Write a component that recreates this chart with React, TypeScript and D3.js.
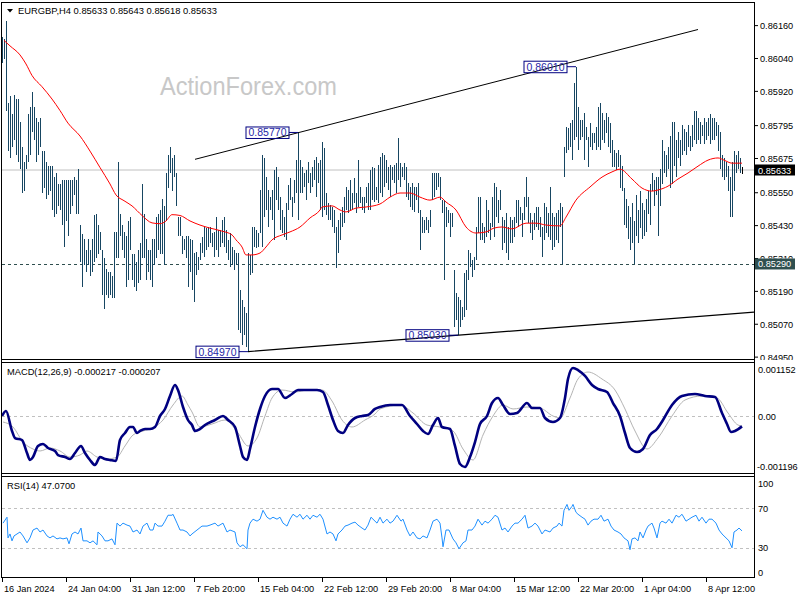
import React from "react";
import * as d3 from "d3";

// Prices are stored as points (1e-5) above 0.85000
const BASE = 0.85;
const highPts = [
1119,1112,1177,877,904,837,907,893,891,810,
716,662,689,837,864,918,864,823,810,823,
702,702,662,649,649,649,608,622,582,582,
595,595,595,595,595,595,608,595,635,434,
400,380,340,380,340,380,467,474,434,407,
340,313,272,259,259,245,407,407,662,474,
434,407,393,447,461,326,326,299,340,366,
582,474,380,340,340,380,380,461,474,488,
528,501,622,689,716,675,689,622,461,461,
393,380,393,393,
380,
378,329,335,317,365,390,426,420,426,426,
402,408,463,414,414,450,463,414,378,402,
353,341,329,329,195,158,134,110,329,323,
426,426,414,402,560,688,676,609,560,536,
560,633,645,609,536,487,463,511,578,603,
536,597,670,770,670,645,621,633,663,621,
645,670,682,657,670,736,712,548,511,505,
499,487,426,450,475,499,536,572,560,597,
548,603,548,670,572,536,536,572,584,633,
645,639,572,651,
682,694,688,670,645,651,645,651,657,748,
657,645,657,645,584,572,584,572,572,584,
487,463,450,463,450,487,621,621,621,621,
609,523,523,499,487,475,475,268,183,171,
158,134,256,268,341,329,304,317,426,536,
536,438,426,523,487,438,536,584,572,523,
560,463,450,475,426,463,450,463,523,523,
499,475,536,609,536,475,450,475,499,499,
463,426,511,499,475,572,475,463,475,487,
511,499,718,791,785,803,815,949,1010,864,
815,815,840,791,755,803,767,767,791,864,
876,840,815,840,828,803,743,706,694,706,
689,649,568,528,501,461,514,447,541,487,
555,514,487,528,555,582,622,595,608,608,
635,743,702,689,716,756,810,810,743,770,
743,797,783,770,797,756,797,850,850,823,
810,797,823,810,823,837,823,823,810,797,
770,689,675,662,649,608,662,702,689,702,
675,643
];
const lowPts = [
1025,1038,850,702,676,716,743,689,662,635,
548,555,635,662,689,770,743,662,689,716,
548,568,528,541,555,487,460,474,501,487,
434,353,447,393,474,501,541,474,474,299,
205,286,259,286,245,259,299,313,326,340,
178,124,178,165,178,165,165,313,313,393,
340,313,205,232,340,232,205,192,219,232,
313,313,232,259,232,205,286,313,340,326,
326,286,447,568,622,555,608,501,393,393,
326,340,313,205,
259,
195,152,250,268,304,329,317,341,353,365,
353,317,341,317,353,365,353,329,304,280,
286,268,286,49,37,-6,31,-12,-30,250,
256,353,347,353,402,353,463,487,426,487,
450,378,523,487,414,402,390,378,487,523,
463,511,548,450,548,548,572,523,584,548,
572,597,536,584,487,463,487,469,450,450,
426,402,274,329,378,426,438,487,475,487,
487,511,475,499,511,487,475,511,487,487,
523,517,523,511,
548,536,572,584,560,536,597,584,548,597,
572,609,597,536,523,499,487,481,523,475,
341,402,402,414,402,426,523,536,560,572,
523,475,232,426,438,390,426,61,85,30,
61,85,98,122,232,280,244,268,304,402,
378,378,365,390,402,378,426,390,463,438,
487,341,365,329,304,365,365,390,438,426,
450,390,450,499,438,402,378,414,426,414,
390,317,378,402,390,378,341,353,378,365,
426,290,609,694,706,718,670,743,755,706,
743,755,670,743,645,718,706,730,706,718,
706,743,730,767,718,694,645,645,633,645,
568,555,434,420,380,340,366,290,393,366,
420,380,393,407,474,434,555,501,541,393,
501,582,622,608,635,568,582,649,608,675,
649,689,702,689,716,702,716,743,729,743,
729,756,729,743,756,729,743,743,756,702,
635,608,595,608,555,460,460,555,622,635,
622,618
];

// Moving average (points above 0.85000) at bar indices
const maIdx = [1,4,9,12,15,20,25,29,33,39,44,49,54,57,61,65,70,75,79,82,85,89,94,99,104,110,115,117,120,122,125,129,132,135,140,144,149,154,159,160,165,169,172,177,182,189,194,199,204,209,214,219,222,227,232,237,242,246,250,255,262,267,272,279,282,287,294,300,305,309,315,320,325,328,333,338,343,348,353,358,361,365,370];
const maVal = [1106,1086,1053,1020,978,937,892,850,804,757,702,642,582,542,521,502,467,440,437,447,470,467,447,432,421,410,396,378,352,323,323,330,352,378,396,407,425,458,487,498,502,487,480,494,498,509,534,549,549,534,523,534,516,487,425,403,407,421,425,418,439,439,432,429,461,523,571,607,626,636,600,567,556,560,574,600,622,647,669,677,669,658,658];

// MACD main line (1e-6 units)
const macdIdx = [0,2,5,6.5,10,12.5,14,15.5,18,20.5,23,26.5,28,31.5,34,36.5,39.5,41.5,44,46.5,49,51.5,54,57,59,61.5,64,65.5,67.5,69,71.5,74,76.5,79,81.5,84,86.5,88,90.5,93,95,96.5,99,101.5,106.5,110.5,113,116.5,119,120.5,122.5,124,126.5,129,131.5,135,138,141.5,145,148,153,157.5,160.5,163,165.5,168,170.5,173,176.5,180,183,186.5,189,194,200,204,207.5,210.5,213,215.5,218,220,224,226.5,229,231.5,234,236.5,239,242.5,245,248,250.5,254,257.5,262.5,265,269,271.5,275.5,279,281.5,283,285.5,288,291.5,295,298,302.5,305.5,309,311.5,314,317.5,320.5,324,327.5,330.5,335,340,346.5,351.5,356.5,360,362.5,364.5,366.5,370];
const macdVal = [11,121,-318,-472,-516,-801,-954,-889,-647,-603,-691,-757,-845,-889,-932,-801,-647,-801,-954,-1064,-889,-932,-954,-976,-516,-362,-230,-230,-362,-318,-274,-274,-230,11,165,450,691,581,208,-77,-187,-318,-274,-187,-77,11,-77,-230,-647,-889,-954,-713,-230,165,450,603,603,406,494,581,581,581,538,252,-77,-318,-362,-187,-33,11,33,165,208,252,252,11,-165,-318,-384,-187,-33,-230,-274,-647,-1042,-1108,-889,-560,-165,11,296,406,252,55,77,296,187,187,-33,-121,-33,406,823,1064,1020,889,691,603,538,296,11,-362,-691,-779,-713,-406,-274,-77,252,450,494,450,428,77,-165,-340,-318,-217];
// MACD signal line (1e-6 units)
const sigIdx = [0.5,5.5,10.5,15.5,19,24,29,34,39,42.5,47.5,52.5,57.5,61.5,65.5,70.5,75.5,80.5,85.5,90,93,95,99,105,111.5,118,123,127.5,131.5,135,140,146.5,153,160,165,170,175,181.5,186.5,189,199,205.5,212.5,219,225.5,230.5,235.5,240.5,245.5,250.5,255.5,262.5,269,275.5,279,284,288,293,300,306.5,311.5,316.5,322.5,328,335,341.5,350,357.5,363,368,370];
const sigVal = [-121,-230,-560,-713,-757,-691,-757,-889,-845,-757,-889,-932,-889,-647,-406,-318,-252,-77,252,450,252,99,-230,-165,-77,-362,-647,-472,11,406,581,538,581,581,340,-77,-230,-77,55,165,252,77,-187,-230,-318,-713,-954,-406,11,252,165,208,187,11,-33,406,823,976,823,581,165,-318,-713,-472,11,362,450,406,77,-187,-207];

// RSI(14) [bar index, value]
const rsiPoints: [number, number][] = [
[0.5,55],[2.5,61],[3,40],[4,44],[5,37],[6,42],[7.5,44],[9,46],[10.5,42],[12.5,35],[14,40],[15.5,48],[17.5,50],[19,46],[20.5,48],[22.5,42],[24,40],[25.5,42],[27.5,39],[29,40],[30.5,39],[32.5,40],[33.5,34],[35,44],[36.5,46],[38,44],[39.5,50],[40.5,37],[42.5,37],[44,35],[45.5,37],[47.5,33],[48,46],[50,42],[51.5,37],[53,37],[55,39],[56.5,33],[57.5,55],[59,52],[60.5,55],[62.5,53],[64,52],[65.5,46],[67.5,48],[69,44],[70.5,52],[72.5,55],[74,48],[75.5,48],[76.5,55],[78,52],[80,52],[81.5,57],[83,63],[85,63],[85.5,64],[87.5,55],[89,48],[90.5,48],[92.5,46],[94,42],[95,44],[97.5,48],[100,52],[102.5,52],[104,53],[106.5,55],[108,52],[110.5,55],[112.5,46],[114,48],[116.5,46],[117.5,35],[119,31],[120.5,33],[122.5,29],[123,48],[124,55],[125.5,59],[127.5,57],[129,59],[130.5,68],[132.5,61],[134,59],[135.5,61],[137.5,59],[139,61],[140.5,55],[142.5,52],[144,59],[145.5,64],[147.5,61],[149,64],[150.5,59],[152.5,63],[154,59],[155.5,63],[157.5,61],[159,64],[160.5,59],[162.5,44],[164,46],[165.5,44],[167,37],[168,44],[170,48],[171.5,52],[173,53],[175,55],[176.5,56],[178,53],[180,50],[181.5,48],[183,53],[184.5,61],[185.5,59],[187.5,55],[189,61],[190.5,55],[192.5,59],[194,55],[195.5,57],[197.5,63],[199.5,57],[200.5,59],[202.5,48],[204,42],[205.5,46],[207.5,40],[209,39],[210.5,42],[212.5,40],[214,48],[215.5,57],[217.5,59],[219,55],[220,40],[220.5,31],[222,48],[223.5,48],[225.5,39],[227,35],[228.5,29],[230.5,35],[232,37],[233,48],[235,48],[236.5,52],[238,59],[240,53],[241.5,57],[243,55],[245,59],[246.5,63],[248,61],[250,48],[251.5,50],[253,46],[255,52],[256.5,55],[258,55],[260,59],[261.5,63],[263,50],[265,52],[266.5,55],[268,52],[270,44],[271.5,48],[274,46],[275.5,50],[277.5,52],[278.5,55],[280,52],[281,68],[282.5,74],[283.5,68],[285,72],[285.5,74],[287,66],[288,64],[290,61],[291.5,59],[293,53],[294.5,57],[296,59],[298,59],[299.5,63],[301,57],[303,59],[304.5,52],[306,48],[308,46],[309.5,44],[311,40],[313,37],[314,28],[315,39],[316.5,40],[318,37],[319,46],[320.5,40],[322,48],[323,52],[325,55],[326,50],[327.5,40],[329,55],[330,57],[332,55],[333.5,59],[335,55],[337,63],[338.5,61],[340,64],[342,57],[343.5,59],[345,61],[347,63],[348.5,57],[350,61],[352,55],[353.5,59],[355,59],[357,55],[358.5,48],[360,44],[362,40],[363.5,37],[365,30],[366,46],[367.5,48],[368.5,50],[370,47.07]
];

const priceTicks = [0.8616, 0.8604, 0.8592, 0.85795, 0.85675, 0.8555, 0.8543, 0.8531, 0.8519, 0.8507, 0.8495];
const timeLabels = ["16 Jan 2024", "24 Jan 04:00", "31 Jan 12:00", "7 Feb 20:00", "15 Feb 04:00", "22 Feb 12:00", "29 Feb 20:00", "8 Mar 04:00", "15 Mar 12:00", "22 Mar 20:00", "1 Apr 04:00", "8 Apr 12:00"];
const timeLabelIdx = [0, 32, 64, 96, 128, 160, 192, 224, 256, 288, 320, 352];

const annotations = [
  { idx: 148, price: 0.8577, text: "0.85770" },
  { idx: 123, price: 0.8497, text: "0.84970" },
  { idx: 228, price: 0.8503, text: "0.85030" },
  { idx: 287, price: 0.8601, text: "0.86010" },
];
const upperTrend = { i0: 96.5, p0: 0.85672, i1: 348, p1: 0.861458 };
const lowerTrend = { i0: 123, p0: 0.8497, i1: 228, p1: 0.8503 };
const lastPrice = 0.85633;
const levelPrice = 0.8529;
const headerText = "EURGBP,H4  0.85633 0.85643 0.85618 0.85633";
const macdText = "MACD(12,26,9) -0.000217 -0.000207";
const rsiText = "RSI(14) 47.0700";
const macdTicks = [
  { v: 0.001152, t: "0.001152" },
  { v: 0, t: "0.00" },
  { v: -0.001196, t: "-0.001196" },
];
const rsiTicks = [100, 70, 30, 0];

const FONT = "'Liberation Sans', Arial, sans-serif";
const BAR_COLOR = "#174662";

export default function App() {
  const AX = 754;
  const x = d3.scaleLinear().domain([0, 370]).range([2, 742]);
  const yP = d3.scaleLinear().domain([0.8494315, 0.8624985]).range([359, 1]);
  const yM = d3.scaleLinear().domain([-0.001196, 0.001152]).range([471, 364]);
  const yR = d3.scaleLinear().domain([0, 100]).range([577.3, 478.8]);
  const pp = (v: number) => BASE + v / 1e5;

  const maLine = d3.line<number>().x((_, k) => x(maIdx[k])).y((v) => yP(pp(v))).curve(d3.curveMonotoneX);
  const macdLine = d3.line<number>().x((_, k) => x(macdIdx[k])).y((v) => yM(v / 1e6)).curve(d3.curveMonotoneX);
  const sigLine = d3.line<number>().x((_, k) => x(sigIdx[k])).y((v) => yM(v / 1e6)).curve(d3.curveMonotoneX);
  const rsiLine = d3.line<[number, number]>().x((d) => x(d[0])).y((d) => yR(d[1]));

  const lowSlope = (lowerTrend.p1 - lowerTrend.p0) / (lowerTrend.i1 - lowerTrend.i0);
  const iEnd = x.invert(AX);
  const lowEndP = lowerTrend.p0 + lowSlope * (iEnd - lowerTrend.i0);
  const levelTop = yP(levelPrice) - 5.5;

  return (
    <svg width={800} height={600} style={{ position: "absolute", left: 0, top: 0, background: "#fff" }} fontFamily={FONT}>
      <defs>
        <clipPath id="mainClip"><rect x={2} y={2} width={AX - 2} height={357.5} /></clipPath>
        <clipPath id="axisClip"><rect x={AX} y={0} width={46} height={360} /></clipPath>
        <clipPath id="hiddenTickClip"><rect x={AX} y={0} width={46} height={levelTop} /></clipPath>
        <clipPath id="macdClip"><rect x={2} y={363} width={AX - 2} height={110} /></clipPath>
        <clipPath id="rsiClip"><rect x={2} y={477} width={AX - 2} height={101} /></clipPath>
      </defs>
      <rect x={0} y={0} width={800} height={600} fill="#fff" />

      {/* watermark */}
      <text x={160} y={95} fontSize={25} fill="#c8c8c8" textLength={177} lengthAdjust="spacingAndGlyphs">ActionForex.com</text>

      {/* main panel */}
      <g clipPath="url(#mainClip)">
        <line x1={2} x2={AX} y1={yP(lastPrice)} y2={yP(lastPrice)} stroke="#c0c0c0" strokeWidth={1} />
        <line x1={2} x2={AX} y1={Math.round(yP(levelPrice)) + 0.5} y2={Math.round(yP(levelPrice)) + 0.5} stroke="#2f4f4f" strokeDasharray="3,3" strokeWidth={1} />
        {highPts.map((h, i) => (
          <line key={i} x1={Math.round(x(i)) + 0.5} x2={Math.round(x(i)) + 0.5}
            y1={yP(pp(h))} y2={yP(pp(lowPts[i]))}
            stroke={i === highPts.length - 1 ? "#000" : BAR_COLOR} strokeWidth={1} shapeRendering="crispEdges" />
        ))}
        <path d={maLine(maVal) || ""} fill="none" stroke="#ff0000" strokeWidth={1} />
        <line x1={x(upperTrend.i0)} y1={yP(upperTrend.p0)} x2={x(upperTrend.i1)} y2={yP(upperTrend.p1)} stroke="#000" strokeWidth={1} />
        <line x1={x(lowerTrend.i0)} y1={yP(lowerTrend.p0)} x2={AX} y2={yP(lowEndP)} stroke="#000" strokeWidth={1.2} />
        {annotations.map((a) => {
          const bx = x(a.idx);
          const by = yP(a.price);
          return (
            <g key={a.text}>
              <line x1={bx - 9} x2={bx} y1={by} y2={by} stroke="#000080" strokeWidth={1} />
              <rect x={bx - 52} y={by - 5.5} width={43} height={11.5} fill="none" stroke="#000080" strokeWidth={1} />
              <text x={bx - 30.5} y={by + 4} fontSize={10.5} fill="#2626a6" textAnchor="middle">{a.text}</text>
            </g>
          );
        })}
      </g>

      {/* header */}
      <path d="M7,9 L13,9 L10,12.5 Z" fill="#000" />
      <text x={18} y={14} fontSize={9.4} fill="#000">{headerText}</text>

      {/* price axis */}
      <g clipPath="url(#axisClip)">
        {priceTicks.map((t) => {
          const hidden = Math.abs(t - levelPrice) < 0.0005;
          return (
            <g key={t}>
              <line x1={AX} x2={AX + 4} y1={yP(t)} y2={yP(t)} stroke="#000" />
              <g clipPath={hidden ? "url(#hiddenTickClip)" : undefined}>
                <text x={760} y={yP(t) + 3.5} fontSize={9.2} fill="#000">{t.toFixed(5)}</text>
              </g>
            </g>
          );
        })}
        <rect x={755} y={levelTop} width={40} height={11} fill="#2f4f4f" />
        <text x={758} y={yP(levelPrice) + 3.5} fontSize={9.2} fill="#fff">{levelPrice.toFixed(5)}</text>
        <rect x={755} y={yP(lastPrice) - 5.5} width={40} height={11} fill="#000" />
        <text x={758} y={yP(lastPrice) + 3.5} fontSize={9.2} fill="#fff">{lastPrice.toFixed(5)}</text>
      </g>

      {/* MACD panel */}
      <g clipPath="url(#macdClip)">
        <line x1={2} x2={AX} y1={Math.round(yM(0)) + 0.5} y2={Math.round(yM(0)) + 0.5} stroke="#c0c0c0" strokeDasharray="3,3" />
        <path d={sigLine(sigVal) || ""} fill="none" stroke="#b4b4b4" strokeWidth={1} />
        <path d={macdLine(macdVal) || ""} fill="none" stroke="#000080" strokeWidth={2.6} strokeLinejoin="round" />
      </g>
      <text x={7} y={375} fontSize={9.3} fill="#000">{macdText}</text>
      {macdTicks.map((t, k) => (
        <text key={t.t} x={k === 2 ? 757 : 758}
          y={k === 0 ? 373 : k === 1 ? yM(0) + 3.5 : 470} fontSize={9.2} fill="#000">{t.t}</text>
      ))}

      {/* RSI panel */}
      <g clipPath="url(#rsiClip)">
        {[70, 30].map((v) => (
          <line key={v} x1={2} x2={AX} y1={Math.round(yR(v)) + 0.5} y2={Math.round(yR(v)) + 0.5} stroke="#c0c0c0" strokeDasharray="3,3" />
        ))}
        <path d={rsiLine(rsiPoints) || ""} fill="none" stroke="#1e90ff" strokeWidth={1} />
      </g>
      <text x={7} y={489} fontSize={9.3} fill="#000">{rsiText}</text>
      {rsiTicks.map((v) => (
        <text key={v} x={758} y={v === 100 ? 486.5 : v === 0 ? 575.5 : yR(v) + 3.5} fontSize={9.2} fill="#000">{v}</text>
      ))}

      {/* frames */}
      <g stroke="#000" strokeWidth={1} fill="none" shapeRendering="crispEdges">
        <line x1={1.5} x2={1.5} y1={2} y2={578} />
        <line x1={1.5} x2={AX + 0.5} y1={2.5} y2={2.5} />
        <line x1={AX + 0.5} x2={AX + 0.5} y1={2} y2={578} />
        <line x1={1.5} x2={AX + 0.5} y1={359.5} y2={359.5} />
        <line x1={1.5} x2={AX + 0.5} y1={362.5} y2={362.5} />
        <line x1={1.5} x2={AX + 0.5} y1={473.5} y2={473.5} />
        <line x1={1.5} x2={AX + 0.5} y1={476.5} y2={476.5} />
        <line x1={1.5} x2={AX + 0.5} y1={577.5} y2={577.5} />
      </g>

      {/* time axis */}
      {timeLabels.map((t, k) => {
        const tx = Math.round(x(timeLabelIdx[k])) + 0.5;
        return (
          <g key={t}>
            <line x1={tx} x2={tx} y1={578} y2={582} stroke="#000" shapeRendering="crispEdges" />
            <text x={tx + 1.5} y={592} fontSize={9.2} fill="#000">{t}</text>
          </g>
        );
      })}
    </svg>
  );
}
